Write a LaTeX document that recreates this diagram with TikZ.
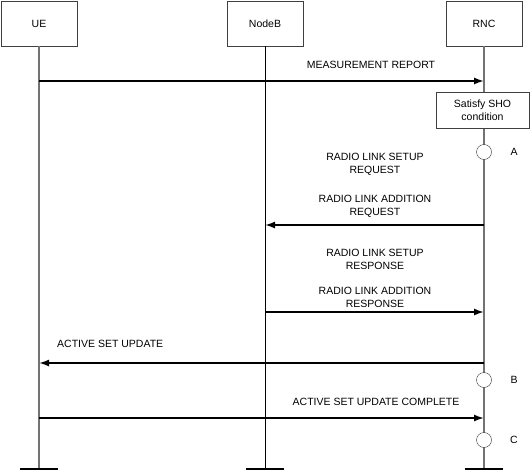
\documentclass[tikz,border=0pt]{standalone}
\usepackage{fontspec}
\setmainfont{Liberation Sans}
\usepackage{tikz}
\usetikzlibrary{arrows.meta,positioning,calc}

\begin{document}
\begin{tikzpicture}[
			x=1pt, y=-1pt,
			every node/.style={font=\fontsize{10.5}{13}\selectfont, inner sep=1pt},
			entity/.style={draw=black!75, line width=0.9pt, minimum width=76pt, minimum height=45pt},
			action/.style={draw=black!75, line width=0.9pt, fill=white, minimum width=93pt, minimum height=36pt, align=center},
			event/.style={draw=black!80, circle, fill=white, minimum size=15pt, inner sep=0pt},
			life/.style={black!55, line width=1.3pt},
			lifethin/.style={black, line width=0.7pt},
			lifeend/.style={black, line width=1.5pt},
			msg/.style={line width=1.7pt, -{Latex[length=10pt,width=7pt]}},
			msglabel/.style={align=center}
		]

		\useasboundingbox (0,0) rectangle (531,471);

		% entities
		\node[entity] (ue) at (39,23.5) {UE};
		\node[entity] (nodeb) at (265,23.5) {NodeB};
		\node[entity] (rnc) at (484,23.5) {RNC};

		\coordinate (ueEnd) at (39,469);
		\coordinate (nodebEnd) at (265,469);
		\coordinate (rncEnd) at (484,469);

		\draw[life] (ue.south) -- (ueEnd);
		\draw[lifethin] (nodeb.south) -- (nodebEnd);
		\draw[life] (rnc.south) -- (rncEnd);

		\draw[lifeend] ($(ueEnd)+(-19,0)$) -- ($(ueEnd)+(19,0)$);
		\draw[lifeend] ($(nodebEnd)+(-19,0)$) -- ($(nodebEnd)+(19,0)$);
		\draw[lifeend] ($(rncEnd)+(-19,0)$) -- ($(rncEnd)+(19,0)$);

		% message end points
		\coordinate (mrUe) at (39,81);
		\coordinate (mrRnc) at (484,81);
		\coordinate (rlReqRnc) at (484,225);
		\coordinate (rlReqNodeb) at (265,225);
		\coordinate (rlRspNodeb) at (265,312);
		\coordinate (rlRspRnc) at (484,312);
		\coordinate (asuRnc) at (484,363);
		\coordinate (asuUe) at (39,363);
		\coordinate (ascUe) at (39,418);
		\coordinate (ascRnc) at (484,418);

		\node[action] (sho) at (482.5,110) {Satisfy SHO\\condition};

		\node[event] (evA) at (484,152) {};
		\node[event] (evB) at (484,380) {};
		\node[event] (evC) at (484,440) {};
		\node (lblA) at (514,152) {A};
		\node (lblB) at (514,380) {B};
		\node (lblC) at (514,440) {C};

		% messages
		\draw[msg] (mrUe) -- (mrRnc);
		\node[msglabel] (mrText) at (371,65) {MEASUREMENT REPORT};

		\node[msglabel] (rlSetupReq) at (375,164.5) {RADIO LINK SETUP\\REQUEST};

		\draw[msg] (rlReqRnc) -- (rlReqNodeb);
		\node[msglabel] (rlAddReq) at (375,206) {RADIO LINK ADDITION\\REQUEST};

		\node[msglabel] (rlSetupRsp) at (375,259.5) {RADIO LINK SETUP\\RESPONSE};

		\draw[msg] (rlRspNodeb) -- (rlRspRnc);
		\node[msglabel] (rlAddRsp) at (375,297) {RADIO LINK ADDITION\\RESPONSE};

		\draw[msg] (asuRnc) -- (asuUe);
		\node[msglabel, anchor=west] (asuText) at (56,344) {ACTIVE SET UPDATE};

		\draw[msg] (ascUe) -- (ascRnc);
		\node[msglabel] (ascText) at (376,402) {ACTIVE SET UPDATE COMPLETE};

	\end{tikzpicture}
\end{document}
